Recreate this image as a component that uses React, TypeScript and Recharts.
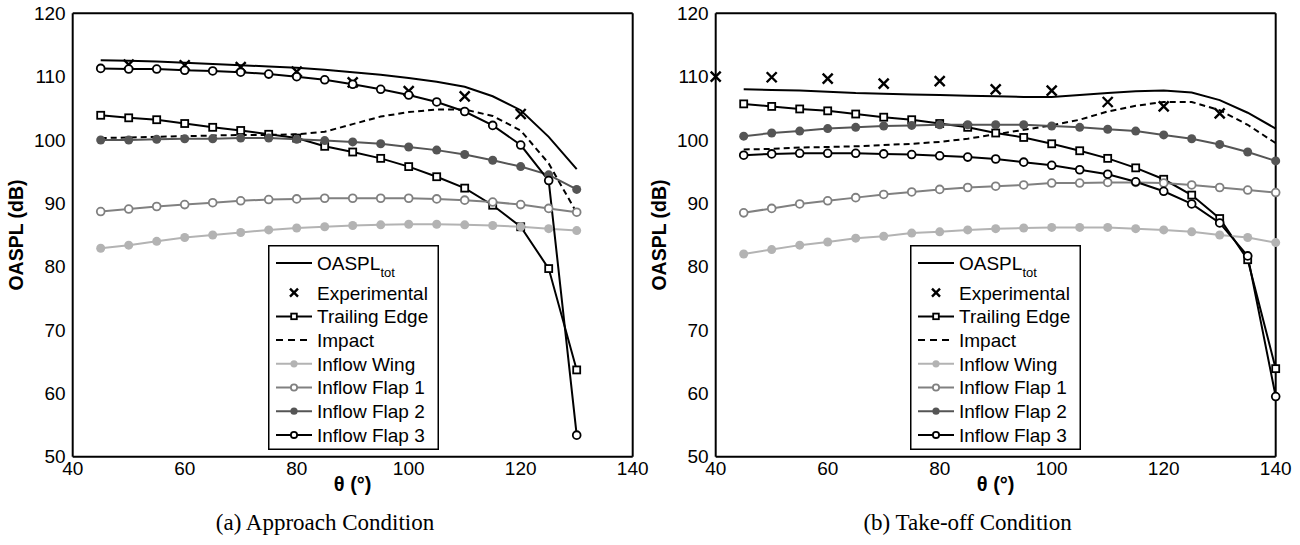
import React from 'react';
import { LineChart, Line, XAxis, YAxis, Legend } from 'recharts';

const FONT = '"Liberation Sans", Arial, Helvetica, sans-serif';
const SERIF = '"Liberation Serif", "Times New Roman", serif';

// theta grid for each condition
const approachTheta = [45, 50, 55, 60, 65, 70, 75, 80, 85, 90, 95, 100, 105, 110, 115, 120, 125, 130];
const approachExpTheta = [50, 60, 70, 80, 90, 100, 110, 120];
const takeoffTheta = [45, 50, 55, 60, 65, 70, 75, 80, 85, 90, 95, 100, 105, 110, 115, 120, 125, 130, 135, 140];
const takeoffExpTheta = [40, 50, 60, 70, 80, 90, 100, 110, 120, 130];

// (a) approach
const approachTotal = [112.6, 112.5, 112.4, 112.2, 112.0, 111.8, 111.6, 111.4, 111.1, 110.7, 110.3, 109.8, 109.2, 108.4, 106.9, 104.7, 100.5, 95.4];
const approachExp = [111.9, 111.8, 111.5, 110.8, 109.1, 107.7, 106.9, 104.1];
const approachTE = [103.9, 103.5, 103.2, 102.6, 102.0, 101.5, 100.9, 100.3, 99.0, 98.1, 97.1, 95.8, 94.2, 92.4, 89.7, 86.3, 79.7, 63.7];
const approachImpact = [100.3, 100.4, 100.5, 100.6, 100.7, 100.8, 100.8, 100.9, 101.3, 102.5, 103.7, 104.4, 104.8, 104.8, 103.8, 101.5, 96.3, 88.5];
const approachWing = [82.9, 83.4, 84.0, 84.6, 85.0, 85.4, 85.8, 86.1, 86.3, 86.5, 86.6, 86.7, 86.7, 86.6, 86.5, 86.3, 86.0, 85.7];
const approachFlap1 = [88.7, 89.1, 89.5, 89.8, 90.1, 90.4, 90.6, 90.7, 90.8, 90.8, 90.8, 90.8, 90.7, 90.5, 90.2, 89.8, 89.2, 88.6];
const approachFlap2 = [100.0, 100.0, 100.1, 100.2, 100.2, 100.3, 100.3, 100.1, 99.9, 99.7, 99.4, 98.9, 98.4, 97.7, 96.8, 95.8, 94.5, 92.2];
const approachFlap3 = [111.3, 111.2, 111.2, 111.0, 110.9, 110.7, 110.4, 110.0, 109.5, 108.8, 108.0, 107.1, 106.0, 104.5, 102.3, 99.2, 93.6, 53.4];

// (b) take-off
const takeoffTotal = [108.0, 107.9, 107.8, 107.6, 107.4, 107.3, 107.2, 107.1, 107.0, 106.9, 106.8, 106.8, 107.1, 107.4, 107.7, 107.8, 107.5, 106.3, 104.3, 101.8];
const takeoffExp = [110.0, 109.9, 109.7, 108.9, 109.3, 108.0, 107.8, 106.0, 105.3, 104.2];
const takeoffTE = [105.7, 105.3, 104.9, 104.6, 104.1, 103.6, 103.2, 102.6, 102.0, 101.1, 100.4, 99.4, 98.3, 97.1, 95.6, 93.8, 91.3, 87.6, 81.1, 63.9];
const takeoffImpact = [98.5, 98.6, 98.8, 98.9, 99.0, 99.2, 99.4, 99.7, 100.2, 100.9, 101.6, 102.3, 103.2, 104.5, 105.4, 106.0, 106.0, 104.7, 102.4, 99.5];
const takeoffWing = [82.0, 82.7, 83.4, 83.9, 84.5, 84.8, 85.3, 85.5, 85.8, 86.0, 86.1, 86.2, 86.2, 86.2, 86.0, 85.8, 85.5, 85.0, 84.6, 83.8];
const takeoffFlap1 = [88.5, 89.2, 89.9, 90.4, 90.9, 91.4, 91.8, 92.2, 92.5, 92.7, 92.9, 93.2, 93.2, 93.3, 93.3, 93.2, 92.9, 92.5, 92.1, 91.7];
const takeoffFlap2 = [100.6, 101.1, 101.4, 101.8, 102.0, 102.2, 102.3, 102.4, 102.4, 102.4, 102.4, 102.2, 102.0, 101.7, 101.4, 100.8, 100.2, 99.3, 98.1, 96.7];
const takeoffFlap3 = [97.6, 97.8, 97.9, 97.9, 97.9, 97.8, 97.7, 97.5, 97.3, 97.0, 96.5, 96.0, 95.3, 94.6, 93.4, 91.9, 89.9, 86.9, 81.7, 59.5];

const thetaTicks = [40, 60, 80, 100, 120, 140];
const splTicks = [50, 60, 70, 80, 90, 100, 110, 120];

const BLACK = '#000000';
const DARK = '#555555';
const MID = '#808080';
const LIGHT = '#b3b3b3';

type Marker = 'none' | 'cross' | 'square' | 'circle' | 'disc';
interface SeriesStyle {
  key: string;
  name: string;
  sub?: string;
  color: string;
  marker: Marker;
  dashed?: boolean;
  noLine?: boolean;
}

const seriesStyles: SeriesStyle[] = [
  { key: 'total', name: 'OASPL', sub: 'tot', color: BLACK, marker: 'none' },
  { key: 'exp', name: 'Experimental', color: BLACK, marker: 'cross', noLine: true },
  { key: 'te', name: 'Trailing Edge', color: BLACK, marker: 'square' },
  { key: 'impact', name: 'Impact', color: BLACK, marker: 'none', dashed: true },
  { key: 'wing', name: 'Inflow Wing', color: LIGHT, marker: 'disc' },
  { key: 'flap1', name: 'Inflow Flap 1', color: MID, marker: 'circle' },
  { key: 'flap2', name: 'Inflow Flap 2', color: DARK, marker: 'disc' },
  { key: 'flap3', name: 'Inflow Flap 3', color: BLACK, marker: 'circle' },
];

type Pt = { theta: number; v: number };
const zip = (xs: number[], ys: number[]): Pt[] => xs.map((theta, i) => ({ theta, v: ys[i] }));

const approachSeries: Record<string, Pt[]> = {
  total: zip(approachTheta, approachTotal),
  exp: zip(approachExpTheta, approachExp),
  te: zip(approachTheta, approachTE),
  impact: zip(approachTheta, approachImpact),
  wing: zip(approachTheta, approachWing),
  flap1: zip(approachTheta, approachFlap1),
  flap2: zip(approachTheta, approachFlap2),
  flap3: zip(approachTheta, approachFlap3),
};

const takeoffSeries: Record<string, Pt[]> = {
  total: zip(takeoffTheta, takeoffTotal),
  exp: zip(takeoffExpTheta, takeoffExp),
  te: zip(takeoffTheta, takeoffTE),
  impact: zip(takeoffTheta, takeoffImpact),
  wing: zip(takeoffTheta, takeoffWing),
  flap1: zip(takeoffTheta, takeoffFlap1),
  flap2: zip(takeoffTheta, takeoffFlap2),
  flap3: zip(takeoffTheta, takeoffFlap3),
};

function markerShape(marker: Marker, color: string, cx: number, cy: number, key: string, scale = 1) {
  switch (marker) {
    case 'square': {
      const h = 3.5 * scale;
      return <rect key={key} x={cx - h} y={cy - h} width={2 * h} height={2 * h} fill="#fff" stroke={color} strokeWidth={1.8} />;
    }
    case 'circle':
      return <circle key={key} cx={cx} cy={cy} r={3.9 * scale} fill="#fff" stroke={color} strokeWidth={1.8} />;
    case 'disc':
      return <circle key={key} cx={cx} cy={cy} r={4.5 * scale} fill={color} stroke="none" />;
    case 'cross': {
      const h = 5 * scale;
      return (
        <path
          key={key}
          d={`M${cx - h},${cy - h}L${cx + h},${cy + h}M${cx - h},${cy + h}L${cx + h},${cy - h}`}
          stroke={color}
          strokeWidth={2.4}
          fill="none"
        />
      );
    }
    default:
      return <g key={key} />;
  }
}

function LegendBox() {
  const rowY = (i: number) => (i === 0 ? 18 : 47.7 + (i - 1) * 23.7);
  return (
    <svg width={171} height={205} style={{ display: 'block' }}>
      <rect x={0.75} y={0.75} width={169.5} height={203.5} fill="#fff" stroke="#000" strokeWidth={1.5} />
      {seriesStyles.map((s, i) => {
        const y = rowY(i);
        return (
          <g key={s.key}>
            {!s.noLine && (
              <line x1={8} x2={44} y1={y} y2={y} stroke={s.color} strokeWidth={2} strokeDasharray={s.dashed ? '7 5' : undefined} />
            )}
            {s.marker !== 'none' && markerShape(s.marker, s.color, 26, y, `m-${s.key}`, 0.8)}
            <text x={49} y={y} dy="0.36em" fontFamily={FONT} fontSize={19} fill="#000">
              {s.name}
              {s.sub && (
                <tspan fontSize={13} dy={7}>
                  {s.sub}
                </tspan>
              )}
            </text>
          </g>
        );
      })}
    </svg>
  );
}

const PANEL_W = 650;
const PANEL_H = 545;
const PLOT_TOP = 13.3;
const PLOT_BOTTOM = 456.7;
const Y_AXIS_W = 72.7;
const X_AXIS_H = 33.3;

const tickStyle = { fill: '#000', fontSize: 19, fontFamily: FONT };
const frameLine = { stroke: '#000', strokeWidth: 2 };
const innerTick = { stroke: '#000', strokeWidth: 1 };
const emptyTick = () => <g />;

function Panel({ left, series, caption }: { left: number; series: Record<string, Pt[]>; caption: string }) {
  return (
    <div style={{ position: 'absolute', left, top: 0, width: PANEL_W, height: PANEL_H }}>
      <LineChart
        width={PANEL_W}
        height={PANEL_H}
        margin={{ top: PLOT_TOP, right: 17.3, bottom: PANEL_H - PLOT_BOTTOM - X_AXIS_H, left: 0 }}
      >
        {/* mirrored axes: inward ticks and the box on all four sides */}
        <XAxis xAxisId="bm" orientation="bottom" mirror type="number" domain={[40, 140]} ticks={thetaTicks} height={1} tickSize={6} tick={emptyTick} axisLine={false} tickLine={innerTick} />
        <XAxis xAxisId="t" orientation="top" mirror type="number" domain={[40, 140]} ticks={thetaTicks} height={1} tickSize={6} tick={emptyTick} axisLine={frameLine} tickLine={innerTick} />
        <YAxis yAxisId="lm" orientation="left" mirror type="number" domain={[50, 120]} ticks={splTicks} width={1} tickSize={6} tick={emptyTick} axisLine={false} tickLine={innerTick} />
        <YAxis yAxisId="r" orientation="right" mirror type="number" domain={[50, 120]} ticks={splTicks} width={1} tickSize={6} tick={emptyTick} axisLine={frameLine} tickLine={innerTick} />
        <XAxis
          xAxisId="b"
          type="number"
          dataKey="theta"
          domain={[40, 140]}
          ticks={thetaTicks}
          height={X_AXIS_H}
          tickSize={0}
          tickMargin={5}
          tickLine={false}
          axisLine={frameLine}
          tick={tickStyle}
          label={{ value: 'θ (°)', position: 'insideBottom', offset: -1, fill: '#000', fontSize: 20, fontWeight: 'bold', fontFamily: FONT }}
        />
        <YAxis
          yAxisId="l"
          type="number"
          domain={[50, 120]}
          ticks={splTicks}
          width={Y_AXIS_W}
          tickSize={0}
          tickMargin={7}
          tickLine={false}
          axisLine={frameLine}
          tick={tickStyle}
        />
        <Legend
          content={LegendBox}
          layout="horizontal"
          verticalAlign="middle"
          align="center"
          wrapperStyle={{ left: 267.7, top: 245, width: 171, height: 205 }}
        />
        {seriesStyles.map((s) => (
          <Line
            key={s.key}
            xAxisId="b"
            yAxisId="l"
            data={series[s.key]}
            dataKey="v"
            name={s.name}
            type="linear"
            stroke={s.noLine ? 'none' : s.color}
            strokeWidth={2}
            strokeDasharray={s.dashed ? '6 4' : undefined}
            dot={
              s.marker === 'none'
                ? false
                : (p: any) => markerShape(s.marker, s.color, p.cx, p.cy, `${s.key}-${p.index}`)
            }
            activeDot={false}
            legendType="none"
            isAnimationActive={false}
          />
        ))}
      </LineChart>
      <div
        style={{
          position: 'absolute',
          left: 16,
          top: (PLOT_TOP + PLOT_BOTTOM) / 2,
          transform: 'translate(-50%, -50%) rotate(-90deg)',
          whiteSpace: 'nowrap',
          fontFamily: FONT,
          fontWeight: 'bold',
          fontSize: 19.5,
          lineHeight: '22px',
        }}
      >
        OASPL (dB)
      </div>
      <div
        style={{
          position: 'absolute',
          left: 0,
          top: 510,
          width: PANEL_W,
          textAlign: 'center',
          fontFamily: SERIF,
          fontSize: 23,
          lineHeight: '26px',
        }}
      >
        {caption}
      </div>
    </div>
  );
}

export default function App() {
  return (
    <div style={{ position: 'absolute', left: 0, top: 0, width: 1300, height: 545, background: '#fff', overflow: 'hidden' }}>
      <Panel left={0} series={approachSeries} caption="(a) Approach Condition" />
      <Panel left={642.6} series={takeoffSeries} caption="(b) Take-off Condition" />
    </div>
  );
}
